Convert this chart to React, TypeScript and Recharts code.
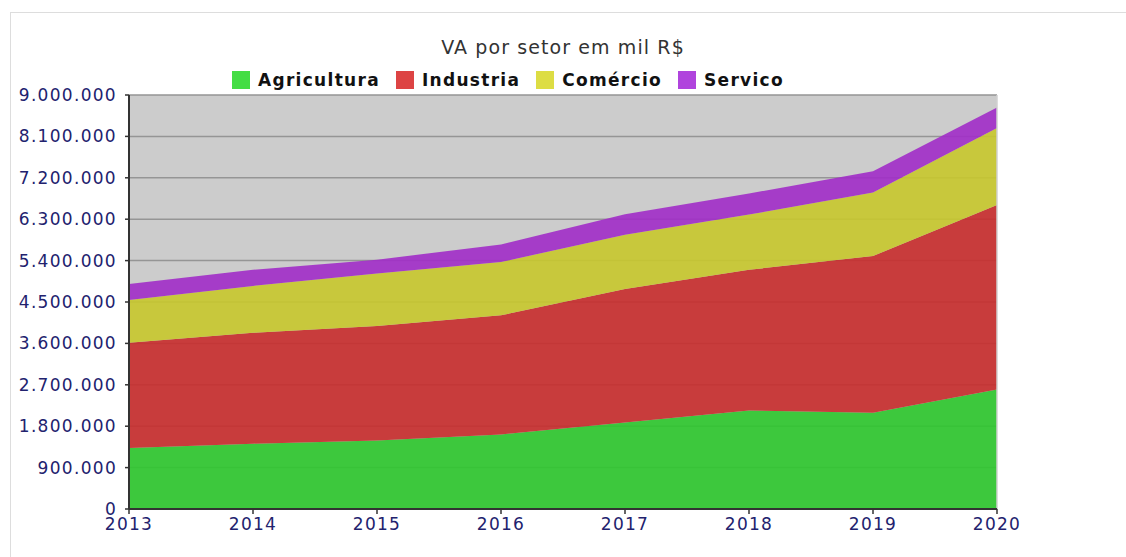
import { AreaChart, Area, XAxis, YAxis, CartesianGrid, ReferenceLine } from 'recharts';

const years = ['2013', '2014', '2015', '2016', '2017', '2018', '2019', '2020'];
const agricultura = [1326000, 1420000, 1490000, 1620000, 1880000, 2140000, 2090000, 2600000];
const industria = [2290000, 2410000, 2490000, 2590000, 2900000, 3060000, 3410000, 4010000];
const comercio = [928000, 1020000, 1140000, 1160000, 1180000, 1200000, 1380000, 1670000];
const servico = [348000, 350000, 300000, 380000, 450000, 460000, 460000, 450000];
const yTicks = [0, 900000, 1800000, 2700000, 3600000, 4500000, 5400000, 6300000, 7200000, 8100000, 9000000];

const series = [
    { key: 'Agricultura', fill: '#2ec82e', swatch: '#44dd44' },
    { key: 'Industria', fill: '#c82c2c', swatch: '#dd4444' },
    { key: 'Comércio', fill: '#c8c82c', swatch: '#dddd44' },
    { key: 'Servico', fill: '#a12cc8', swatch: '#b044dd' },
];

const data = years.map((year, i) => ({
    year,
    Agricultura: agricultura[i],
    Industria: industria[i],
    'Comércio': comercio[i],
    Servico: servico[i],
}));

const fmt = (v: number) => String(v).replace(/\B(?=(\d{3})+(?!\d))/g, '.');

const tickStyle = { fill: '#22226e', fontSize: 17, fontFamily: 'DejaVu Sans', letterSpacing: 1.3 };

export default function App() {
    return (
        <div style={{ position: 'relative', width: 1126, height: 557, overflow: 'hidden', fontFamily: 'DejaVu Sans' }}>
            <style>{`body{margin:0;overflow:hidden}`}</style>
            <div style={{ position: 'absolute', left: 10, top: 12, width: 1200, height: 600, borderTop: '1px solid #dddddd', borderLeft: '1px solid #dddddd' }} />
            <div style={{ position: 'absolute', left: 0, width: 1126, top: 36, textAlign: 'center', fontSize: 19, letterSpacing: 1.1, color: '#333' }}>
                VA por setor em mil R$
            </div>
            <div style={{ position: 'absolute', left: 232, top: 70, display: 'flex', alignItems: 'center' }}>
                {series.map((s) => (
                    <div key={s.key} style={{ display: 'flex', alignItems: 'center', marginRight: 16 }}>
                        <span style={{ width: 18, height: 18, background: s.swatch, marginRight: 8 }} />
                        <span style={{ fontSize: 17, fontWeight: 'bold', letterSpacing: 1.3, color: '#111' }}>{s.key}</span>
                    </div>
                ))}
            </div>
            <div style={{ position: 'absolute', left: 0, top: 0 }}>
                <AreaChart width={1126} height={557} data={data} margin={{ top: 95, right: 129, left: 19, bottom: 18 }}>
                    <CartesianGrid vertical={false} fill="#cccccc" stroke="#959595" strokeWidth={1.5} />
                    <XAxis dataKey="year" tick={tickStyle} tickSize={5} tickMargin={4} height={30}
                        axisLine={{ stroke: '#333', strokeWidth: 2 }} tickLine={{ stroke: '#333', strokeWidth: 1.5 }} interval={0} />
                    <YAxis domain={[0, 9000000]} ticks={yTicks} tickFormatter={fmt} tick={tickStyle} width={110}
                        tickSize={4} tickMargin={8} axisLine={{ stroke: '#333', strokeWidth: 2 }}
                        tickLine={{ stroke: '#333', strokeWidth: 1.5 }} interval={0} />
                    {series.map((s) => (
                        <Area key={s.key} type="linear" dataKey={s.key} stackId="va" stroke="none"
                            fill={s.fill} fillOpacity={0.9} isAnimationActive={false} dot={false} activeDot={false} />
                    ))}
                    <ReferenceLine x="2020" stroke="#d0d0d0" strokeWidth={1.5} />
                </AreaChart>
            </div>
        </div>
    );
}
